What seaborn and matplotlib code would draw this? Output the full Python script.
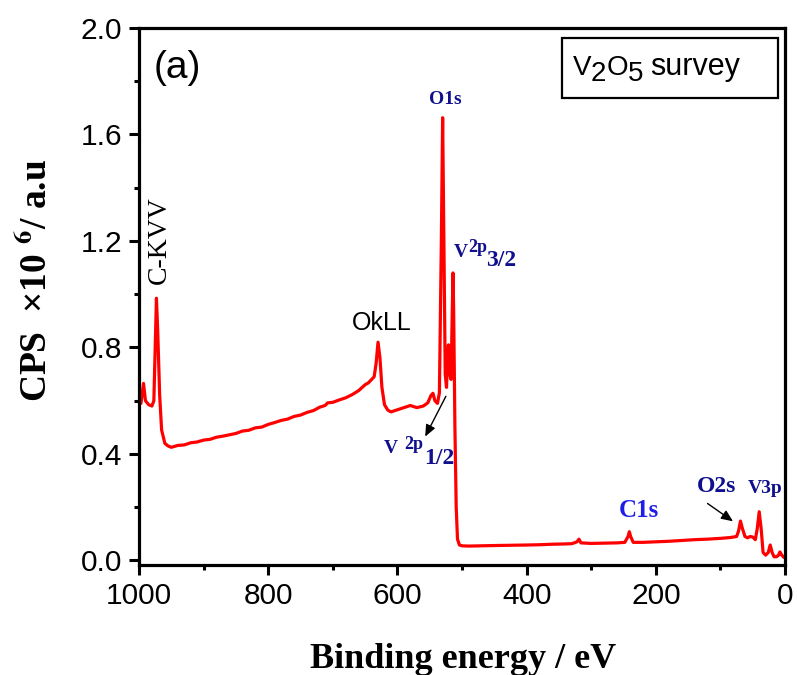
# XPS survey spectrum of V2O5
import pandas as pd
import matplotlib.pyplot as plt
import seaborn as sns
from matplotlib.patches import Rectangle
from matplotlib.ticker import MultipleLocator

energy = [1000, 997, 993, 990, 985, 980, 977, 975, 973, 971, 968, 965, 960,
          955, 950, 940, 930, 920, 910, 900, 890, 880, 870, 860, 850, 840,
          830, 820, 810, 800, 790, 780, 770, 760, 750, 740, 730, 720, 712,
          708, 700, 690, 680, 670, 660, 650, 645, 640, 636, 633, 630, 627,
          624, 620, 615, 610, 600, 590, 580, 570, 560, 553, 548, 545, 542,
          538, 535, 532, 530, 528, 526, 524, 522, 521, 519, 517, 515, 514,
          513, 511, 509, 507, 504, 500, 490, 470, 450, 430, 400, 380, 360,
          340, 330, 322, 319, 316, 300, 280, 260, 248, 243, 241, 239, 235,
          220, 200, 180, 160, 140, 120, 100, 85, 75, 72, 69, 66, 62, 58, 54,
          50, 46, 43, 40, 37, 34, 30, 26, 23, 20, 17, 13, 10, 8, 5, 2, 0]
cps = [0.60, 0.59, 0.665, 0.60, 0.585, 0.58, 0.60, 0.80, 0.985, 0.86, 0.62,
       0.49, 0.44, 0.43, 0.425, 0.432, 0.434, 0.442, 0.445, 0.452, 0.455,
       0.463, 0.467, 0.472, 0.477, 0.486, 0.489, 0.498, 0.501, 0.511, 0.518,
       0.526, 0.531, 0.541, 0.546, 0.556, 0.563, 0.576, 0.582, 0.592, 0.594,
       0.603, 0.611, 0.623, 0.638, 0.66, 0.667, 0.68, 0.69, 0.74, 0.82, 0.76,
       0.65, 0.585, 0.565, 0.558, 0.566, 0.574, 0.582, 0.574, 0.58, 0.592,
       0.62, 0.628, 0.60, 0.59, 0.63, 1.20, 1.663, 1.20, 0.70, 0.65, 0.78,
       0.81, 0.70, 0.68, 0.95, 1.08, 0.95, 0.50, 0.20, 0.08, 0.058, 0.055,
       0.054, 0.055, 0.056, 0.057, 0.058, 0.059, 0.061, 0.062, 0.063, 0.07,
       0.08, 0.066, 0.064, 0.065, 0.066, 0.068, 0.09, 0.108, 0.09, 0.068,
       0.068, 0.07, 0.072, 0.075, 0.078, 0.08, 0.083, 0.086, 0.09, 0.11,
       0.148, 0.12, 0.09, 0.085, 0.09, 0.088, 0.078, 0.12, 0.183, 0.12, 0.03,
       0.02, 0.03, 0.058, 0.03, 0.014, 0.014, 0.02, 0.032, 0.02, 0.012, 0.01]

df = pd.DataFrame({"Binding energy": energy, "CPS": cps})

sns.set_style("ticks")
plt.rcParams["font.family"] = ["Liberation Sans", "DejaVu Sans"]
plt.rcParams["mathtext.fontset"] = "stix"
for key in ["text.color", "axes.edgecolor", "xtick.color", "ytick.color",
            "axes.labelcolor"]:
    plt.rcParams[key] = "black"

serif = ["Liberation Serif", "DejaVu Serif"]
navy = "#10108f"

fig, ax = plt.subplots(figsize=(7.97, 6.75), dpi=100)
fig.subplots_adjust(left=0.1744, right=0.985, top=0.9585, bottom=0.163)

sns.lineplot(data=df, x="Binding energy", y="CPS", color="red",
             linewidth=2.3, ax=ax)

ax.set_xlim(1000, 0)
ax.set_ylim(-0.017, 2.0)
ax.xaxis.set_major_locator(MultipleLocator(200))
ax.xaxis.set_minor_locator(MultipleLocator(100))
ax.yaxis.set_major_locator(MultipleLocator(0.4))
ax.yaxis.set_minor_locator(MultipleLocator(0.2))
ax.tick_params(which="major", length=7, width=2.2, labelsize=21.5,
               direction="out", pad=5)
ax.tick_params(which="minor", length=3.5, width=2.2, direction="out")
for side in ["top", "right", "bottom", "left"]:
    ax.spines[side].set_visible(True)
    ax.spines[side].set_linewidth(2.3)

ax.set_xlabel("")
ax.set_ylabel("")
fig.text(0.581, 0.0104, "Binding energy / eV", family=serif,
         fontweight="bold", fontsize=26, ha="center", va="baseline")
fig.text(0.0464, 0.5837, r"CPS  ×10 $^{\mathbf{6}}$/ a.u", family=serif,
         fontweight="bold", fontsize=27, rotation=90, ha="center",
         va="center")

# Panel label
ax.text(976.9, 1.851, "(a)", fontsize=28, ha="left", va="center")

# Title box
ax.add_patch(Rectangle((0.655, 0.8696), 0.334, 0.1117, transform=ax.transAxes,
                       fill=False, ec="black", lw=1.6))
for txt, x, y in [("V", 328.7, 1.825), ("2", 300.2, 1.800),
                  ("O", 276.2, 1.825), ("5", 243.1, 1.800)]:
    ax.text(x, y, txt, fontsize=20, ha="left", va="baseline")
ax.text(208.3, 1.825, "survey", fontsize=22, ha="left", va="baseline")

# Peak labels
ax.text(969, 1.205, "C-KVV", family=serif, rotation=90, fontsize=20,
        ha="center", va="center")
ax.text(623.5, 0.893, "OkLL", fontsize=18, ha="center", va="center")
ax.text(526, 1.731, "O1s", family=serif, fontweight="bold", fontsize=14,
        color=navy, ha="center", va="center")

lab = dict(family=serif, fontweight="bold", color=navy, ha="left",
           va="baseline")
ax.text(512.3, 1.141, "V", fontsize=14, **lab)
ax.text(490.7, 1.158, "2p", fontsize=13, **lab)
ax.text(463.0, 1.107, "3/2", fontsize=17, **lab)
ax.text(620.4, 0.404, "V", fontsize=14, **lab)
ax.text(589.5, 0.419, "2p", fontsize=13, **lab)
ax.text(558.6, 0.363, "1/2", fontsize=17, **lab)
ax.annotate("", xy=(559, 0.456), xytext=(523, 0.626),
            arrowprops=dict(arrowstyle="-|>,head_width=0.3,head_length=0.7",
                            color="black", lw=1))

ax.text(227, 0.186, "C1s", family=serif, fontweight="bold", fontsize=18,
        color="#1e1ee6", ha="center", va="center")
ax.text(106.5, 0.276, "O2s", family=serif, fontweight="bold", fontsize=17,
        color=navy, ha="center", va="center")
ax.text(31, 0.269, "V3p", family=serif, fontweight="bold", fontsize=14,
        color=navy, ha="center", va="center")
ax.annotate("", xy=(77, 0.141), xytext=(123.5, 0.22),
            arrowprops=dict(arrowstyle="-|>,head_width=0.3,head_length=0.7",
                            color="black", lw=1))

plt.savefig("out.png", dpi=100)
